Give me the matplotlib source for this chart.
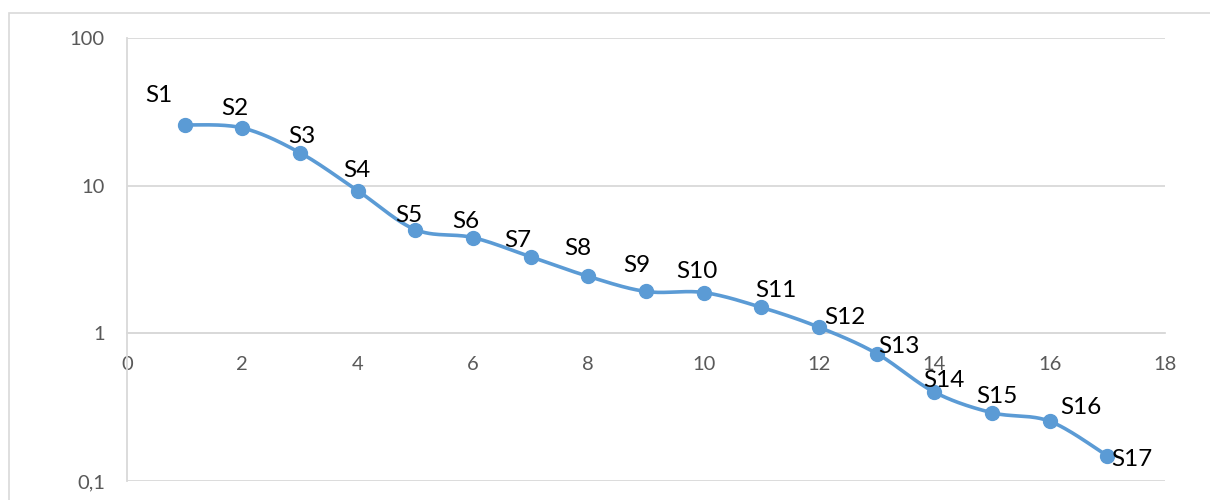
import numpy as np
import matplotlib
matplotlib.use("Agg")
import matplotlib.pyplot as plt
from matplotlib.patches import Rectangle
from matplotlib.ticker import FixedLocator, FuncFormatter, NullLocator

# Series data
x_vals = [1, 2, 3, 4, 5, 6, 7, 8, 9, 10, 11, 12, 13, 14, 15, 16, 17]
y_vals = [25.8, 24.6, 16.7, 9.25, 5.04, 4.45, 3.3, 2.43, 1.92, 1.89, 1.5,
          1.1, 0.73, 0.40, 0.29, 0.254, 0.148]
point_labels = ["S1", "S2", "S3", "S4", "S5", "S6", "S7", "S8", "S9", "S10",
                "S11", "S12", "S13", "S14", "S15", "S16", "S17"]
x_ticks = [0, 2, 4, 6, 8, 10, 12, 14, 16, 18]
y_ticks = [0.1, 1, 10, 100]
y_tick_labels = ["0,1", "1", "10", "100"]

# Label placement (pixel offsets of label centre/baseline from each point)
label_dx = [-26, -7, 2, -1, -6, -7, -13, -11, -9, -7, 15, 26, 22, 10, 5, 31, 25]
label_dy = [-23, -13, -10, -14, -8, -10, -10, -21, -19, -15, -10, -3, -1, -5, -10, -7, 10]

LINE_COLOR = "#5B9BD5"
GRID_COLOR = "#D9D9D9"
TEXT_GRAY = "#595959"
FONT = ["Lato", "DejaVu Sans"]

plt.rcParams["font.family"] = FONT

W, H, DPI = 1210, 500, 100
fig = plt.figure(figsize=(W / DPI, H / DPI), dpi=DPI)
fig.patch.set_facecolor("white")

# Chart-area border
fig.add_artist(Rectangle((9 / W, -0.05), 1.1, 1 - 13 / H + 0.05,
                         transform=fig.transFigure, fill=False,
                         edgecolor=GRID_COLOR, linewidth=1.2))

ax = fig.add_axes([127 / W, 1 - 481 / H, (1165 - 127) / W, (481 - 38) / H])
ax.set_yscale("log")
ax.set_xlim(0, 18)
ax.set_ylim(0.1, 100)


def smooth_curve(xs, ys, n=30):
    """Catmull-Rom style Bezier smoothing in (x, log y) space."""
    px = np.asarray(xs, float)
    py = np.log10(np.asarray(ys, float))
    out_x, out_y = [], []
    m = len(px)
    for i in range(m - 1):
        p0 = (px[max(i - 1, 0)], py[max(i - 1, 0)])
        p1 = (px[i], py[i])
        p2 = (px[i + 1], py[i + 1])
        p3 = (px[min(i + 2, m - 1)], py[min(i + 2, m - 1)])
        c1 = (p1[0] + (p2[0] - p0[0]) / 6, p1[1] + (p2[1] - p0[1]) / 6)
        c2 = (p2[0] - (p3[0] - p1[0]) / 6, p2[1] - (p3[1] - p1[1]) / 6)
        t = np.linspace(0, 1, n)
        bx = ((1 - t) ** 3 * p1[0] + 3 * (1 - t) ** 2 * t * c1[0]
              + 3 * (1 - t) * t ** 2 * c2[0] + t ** 3 * p2[0])
        by = ((1 - t) ** 3 * p1[1] + 3 * (1 - t) ** 2 * t * c1[1]
              + 3 * (1 - t) * t ** 2 * c2[1] + t ** 3 * p2[1])
        out_x.extend(bx)
        out_y.extend(by)
    return np.array(out_x), 10 ** np.array(out_y)


sx, sy = smooth_curve(x_vals, y_vals)
ax.plot(sx, sy, color=LINE_COLOR, linewidth=2.6, solid_capstyle="round", zorder=3)
ax.plot(x_vals, y_vals, linestyle="none", marker="o", markersize=10,
        color=LINE_COLOR, zorder=4)

for xv, yv, lab, dx, dy in zip(x_vals, y_vals, point_labels, label_dx, label_dy):
    ax.annotate(lab, (xv, yv), xytext=(dx * 0.72, -dy * 0.72),
                textcoords="offset points", ha="center", va="baseline",
                fontsize=17.5, color="black", zorder=5)

# Gridlines and axes
ax.yaxis.set_major_locator(FixedLocator(y_ticks))
ax.yaxis.set_minor_locator(NullLocator())
ax.yaxis.set_major_formatter(FuncFormatter(
    lambda v, p: dict(zip(y_ticks, y_tick_labels)).get(round(v, 3), "")))
ax.grid(axis="y", which="major", color=GRID_COLOR, linewidth=1.3, zorder=0)
ax.set_axisbelow(True)

ax.xaxis.set_major_locator(FixedLocator(x_ticks))
ax.xaxis.set_major_formatter(FuncFormatter(lambda v, p: f"{int(v)}"))

for side in ("top", "right"):
    ax.spines[side].set_visible(False)
ax.spines["left"].set_color(GRID_COLOR)
ax.spines["left"].set_linewidth(1.3)
ax.spines["bottom"].set_position(("data", 1))
ax.spines["bottom"].set_color(GRID_COLOR)
ax.spines["bottom"].set_linewidth(1.3)

ax.tick_params(axis="both", length=0, labelsize=14.5, labelcolor=TEXT_GRAY)
ax.tick_params(axis="x", pad=16)
ax.tick_params(axis="y", pad=16)

fig.savefig("out.png", dpi=DPI, facecolor="white")
